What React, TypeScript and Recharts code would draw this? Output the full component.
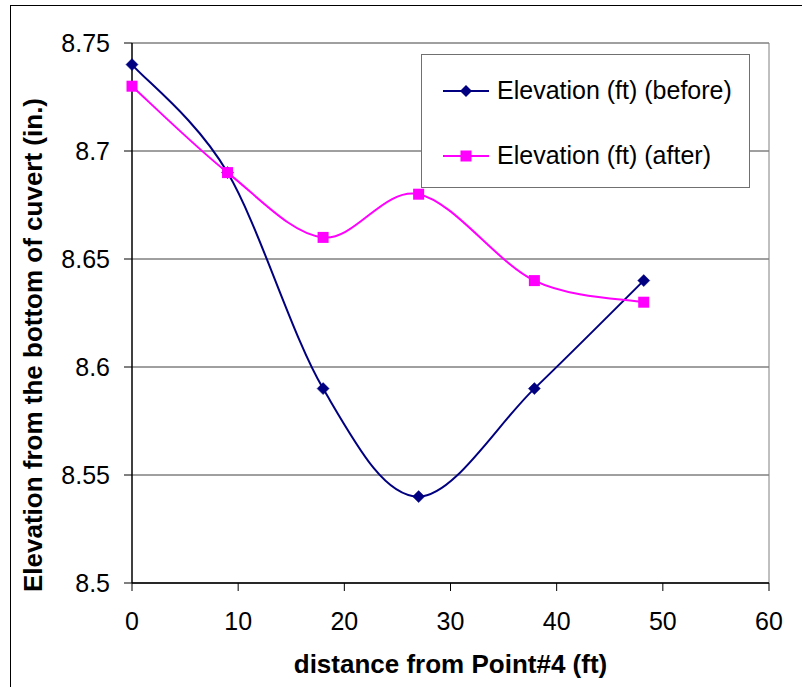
import React from 'react';
import { LineChart, Line, XAxis, YAxis, CartesianGrid, Legend, ReferenceLine } from 'recharts';

const distance = [0, 9, 18, 27, 37.9, 48.2];
const before = [8.74, 8.69, 8.59, 8.54, 8.59, 8.64];
const after = [8.73, 8.69, 8.66, 8.68, 8.64, 8.63];
const xTicks = [0, 10, 20, 30, 40, 50, 60];
const yTicks = [8.5, 8.55, 8.6, 8.65, 8.7, 8.75];
const seriesNames = ['Elevation (ft) (before)', 'Elevation (ft) (after)'];
const xTitle = 'distance from Point#4 (ft)';
const yTitle = 'Elevation from the bottom of cuvert (in.)';

const data = distance.map((d, i) => ({ distance: d, before: before[i], after: after[i] }));

const FONT = '"Liberation Sans", Arial, sans-serif';
const NAVY = '#000080';
const MAGENTA = '#FF00FF';

// Excel-like smoothed line (Catmull-Rom style Bezier segments)
const excelSmooth = (context: any) => {
  let pts: number[][] = [];
  return {
    areaStart() {},
    areaEnd() {},
    lineStart() {
      pts = [];
    },
    point(x: number, y: number) {
      pts.push([+x, +y]);
    },
    lineEnd() {
      if (!pts.length) return;
      context.moveTo(pts[0][0], pts[0][1]);
      for (let i = 0; i < pts.length - 1; i++) {
        const p0 = pts[i - 1] || pts[i];
        const p1 = pts[i];
        const p2 = pts[i + 1];
        const p3 = pts[i + 2] || pts[i + 1];
        const c1x = p1[0] + (p2[0] - p0[0]) / 6;
        const c1y = p1[1] + (p2[1] - p0[1]) / 6;
        const c2x = p2[0] - (p3[0] - p1[0]) / 6;
        const c2y = p2[1] - (p3[1] - p1[1]) / 6;
        context.bezierCurveTo(c1x, c1y, c2x, c2y, p2[0], p2[1]);
      }
    },
  };
};

const diamondPath = (cx: number, cy: number, r: number) =>
  `M${cx},${cy - r}L${cx + r},${cy}L${cx},${cy + r}L${cx - r},${cy}Z`;

const DiamondDot = (props: any) => {
  const { cx, cy, index } = props;
  if (cx == null || cy == null) return <g key={`bd${index}`} />;
  return <path key={`bd${index}`} d={diamondPath(cx, cy, 6)} fill={NAVY} stroke={NAVY} strokeWidth={0.5} />;
};

const SquareDot = (props: any) => {
  const { cx, cy, index } = props;
  if (cx == null || cy == null) return <g key={`ad${index}`} />;
  return <rect key={`ad${index}`} x={cx - 5.5} y={cy - 5.5} width={11} height={11} fill={MAGENTA} />;
};

const LegendContent = (props: any) => {
  const items = [...(props.payload || [])].sort(
    (a: any, b: any) => seriesNames.indexOf(a.value) - seriesNames.indexOf(b.value)
  );
  return (
    <div
      style={{
        width: '100%',
        height: '100%',
        boxSizing: 'border-box',
        border: '1px solid #707070',
        background: '#fff',
        paddingTop: 3,
      }}
    >
      {items.map((item: any, i: number) => {
        const isBefore = item.dataKey === 'before';
        const color = item.color;
        return (
          <div key={i} style={{ height: 65, display: 'flex', alignItems: 'center' }}>
            <svg width={46} height={16} style={{ marginLeft: 21, marginRight: 8, flex: 'none' }}>
              <line x1={0} y1={8} x2={46} y2={8} stroke={color} strokeWidth={2} />
              {isBefore ? (
                <path d={diamondPath(23, 8, 6)} fill={color} />
              ) : (
                <rect x={17.5} y={2.5} width={11} height={11} fill={color} />
              )}
            </svg>
            <span style={{ fontFamily: FONT, fontSize: 25, color: '#000', whiteSpace: 'nowrap' }}>{item.value}</span>
          </div>
        );
      })}
    </div>
  );
};

const YTitle = () => (
  <text
    transform="translate(33,345) rotate(-90)"
    textAnchor="middle"
    dominantBaseline="central"
    fontFamily={FONT}
    fontSize={26}
    fontWeight="bold"
    fill="#000"
  >
    {yTitle}
  </text>
);

export default function App() {
  return (
    <div style={{ position: 'absolute', left: 0, top: 0, width: 802, height: 687, overflow: 'hidden', background: '#fff' }}>
      <div style={{ position: 'absolute', left: 0, top: 0 }}>
        <LineChart width={802} height={687} data={data} margin={{ top: 43, right: 33, left: 0, bottom: 0 }}>
          <CartesianGrid horizontal vertical={false} stroke="#404040" strokeWidth={1} />
          <ReferenceLine x={60} stroke="#808080" strokeWidth={1} ifOverflow="visible" />
          <XAxis
            dataKey="distance"
            type="number"
            domain={[0, 60]}
            ticks={xTicks}
            interval={0}
            height={104}
            tickSize={8}
            tickMargin={21}
            axisLine={{ stroke: '#000', strokeWidth: 1.5 }}
            tickLine={{ stroke: '#000' }}
            tick={{ fontFamily: FONT, fontSize: 25, fill: '#000' }}
            label={{
              value: xTitle,
              position: 'insideBottom',
              offset: 14,
              style: { fontFamily: FONT, fontSize: 26, fontWeight: 'bold', fill: '#000' },
            }}
          />
          <YAxis
            type="number"
            domain={[8.5, 8.75]}
            ticks={yTicks}
            interval={0}
            width={132}
            tickSize={8}
            tickMargin={14}
            axisLine={{ stroke: '#000', strokeWidth: 1.5 }}
            tickLine={{ stroke: '#000' }}
            tick={{ fontFamily: FONT, fontSize: 25, fill: '#000' }}
            label={YTitle}
          />
          <Legend
            layout="vertical"
            verticalAlign="middle"
            align="center"
            content={LegendContent}
            wrapperStyle={{ position: 'absolute', left: 421, top: 54, width: 329, height: 134 }}
          />
          <Line
            type={excelSmooth as any}
            dataKey="before"
            name={seriesNames[0]}
            stroke={NAVY}
            strokeWidth={2}
            dot={DiamondDot}
            activeDot={false}
            isAnimationActive={false}
          />
          <Line
            type={excelSmooth as any}
            dataKey="after"
            name={seriesNames[1]}
            stroke={MAGENTA}
            strokeWidth={2}
            dot={SquareDot}
            activeDot={false}
            isAnimationActive={false}
          />
        </LineChart>
      </div>
      <div
        style={{
          position: 'absolute',
          left: 10,
          top: 5,
          width: 900,
          height: 900,
          borderLeft: '1px solid #000',
          borderTop: '1px solid #000',
          pointerEvents: 'none',
        }}
      />
    </div>
  );
}
